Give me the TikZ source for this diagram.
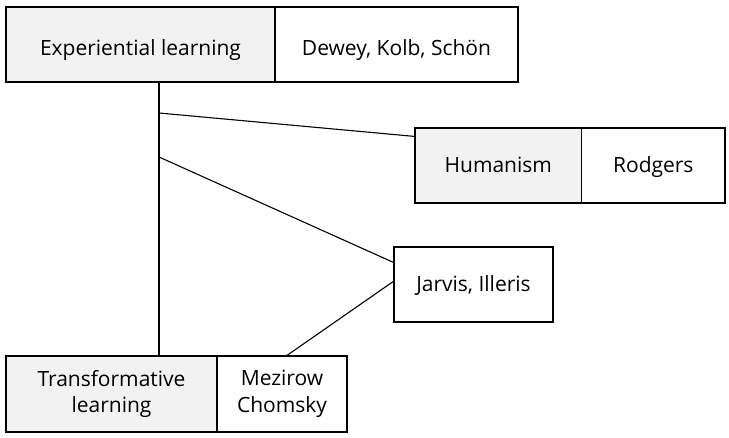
\documentclass[tikz,border=0pt]{standalone}
\usepackage{fontspec}
\setmainfont{Open Sans}
\usetikzlibrary{calc}
\begin{document}
\begin{tikzpicture}[x=1pt,y=-1pt,
  box/.style={draw=black,line width=1.2pt,rectangle,inner sep=0pt,align=center,font=\fontsize{21}{26.5}\selectfont,minimum height=75pt},
  graybox/.style={box,fill=gray95},
  oneline/.style={text height=14pt,text depth=0pt},
  toprow/.style={text height=22pt,text depth=0pt},
  link/.style={draw=black,line width=1.1pt}]
\definecolor{gray95}{HTML}{F2F2F2}
\useasboundingbox (0,0) rectangle (729,438);
\node[graybox,toprow,minimum width=269pt] (exp) at (140.5,44.5) {Experiential learning};
\node[box,toprow,minimum width=243pt] (dew) at (396.5,44.5) {Dewey, Kolb, Schön};
\node[graybox,oneline,minimum width=166.7pt] (hum) at (498.3,165.5) {Humanism};
\node[box,oneline,minimum width=143.3pt] (rod) at (653.3,165.5) {Rodgers};
\node[box,oneline,minimum width=159pt] (jar) at (473.5,284.5) {Jarvis, Illeris};
\node[graybox,minimum width=211pt,minimum height=76pt] (tra) at (111.5,394) {Transformative\\learning};
\node[box,minimum width=130pt,minimum height=76pt] (mez) at (282,394) {Mezirow\\Chomsky};
\coordinate (j1) at (159,113);
\coordinate (j2) at (159,157);
\draw[link] (exp.south -| j1) -- (tra.north -| j1);
\draw[link] (j1) -- ($(hum.north west)+(0,9)$);
\draw[link] (j2) -- ($(jar.north west)+(0,16)$);
\draw[link] ($(jar.north west)+(0,35)$) -- ($(mez.north)+(5,0)$);
\end{tikzpicture}
\end{document}
